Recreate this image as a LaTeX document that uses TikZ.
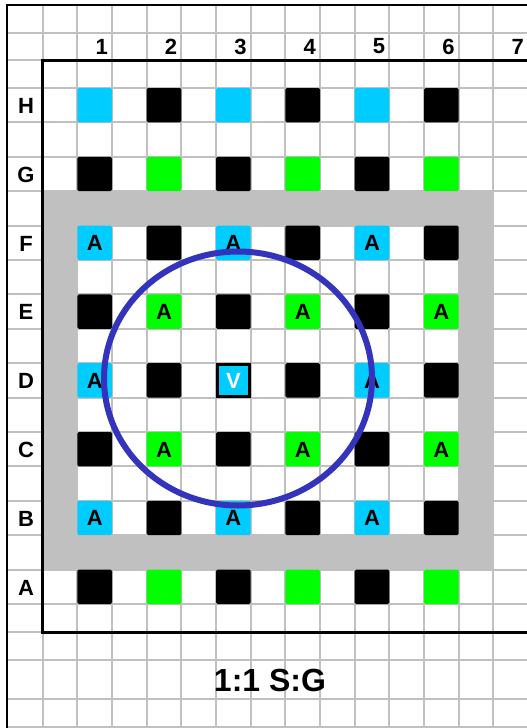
\documentclass[tikz,border=0pt]{standalone}
\usepackage{fontspec}
\setmainfont{Liberation Sans}
\definecolor{cyanbox}{HTML}{00CCFF}
\definecolor{greenbox}{HTML}{00FF00}
\definecolor{gridgray}{HTML}{C0C0C0}
\definecolor{ringblue}{RGB}{51,51,187}
\begin{document}
\begin{tikzpicture}[x=1pt, y=-1pt,
    cell/.style={rounded corners=1.5pt},
    lbl/.style={font=\fontsize{22}{26}\selectfont\bfseries, inner sep=0pt}]
    \useasboundingbox (0,0) rectangle (527,728);
    \fill[white] (0,0) rectangle (527,728);

    \foreach \k in {0,...,14}
        \draw[gridgray, line width=2pt] ({42.7+34.67*\k},5) -- ({42.7+34.67*\k},728);
    \foreach \y in {33,60,632,660,699,727}
        \draw[gridgray, line width=2pt] (7,\y) -- (527,\y);
    \foreach \j in {0,...,15}
        \draw[gridgray, line width=2pt] (7,{88+34.4*\j}) -- (527,{88+34.4*\j});

    \fill[gridgray, even odd rule]
        (42.7,191.2) rectangle (493.4,569.6)
        (77.4,225.6) rectangle (458.7,535.2);

    \foreach \j/\ca/\cb in {
        0/cyanbox/black,2/black/greenbox,4/cyanbox/black,6/black/greenbox,
        8/cyanbox/black,10/black/greenbox,12/cyanbox/black,14/black/greenbox} {
        \foreach \n in {1,3,5}
            \fill[\ca, cell] ({42.7+34.67*(2*\n-1)},{88+34.4*\j}) rectangle ++(34.67,34.4);
        \foreach \n in {2,4,6}
            \fill[\cb, cell] ({42.7+34.67*(2*\n-1)},{88+34.4*\j}) rectangle ++(34.67,34.4);
    }
    \draw[black, fill=cyanbox, line width=3pt]
        ({42.7+34.67*5+1.5},{88+34.4*8+1.5}) rectangle ++(31.67,31.4);

    \draw[black, line width=3pt] (527,60) -- (42.7,60) -- (42.7,632) -- (527,632);
    \draw[black, line width=2.5pt] (7,728) -- (7,5) -- (527,5);

    \foreach \n in {1,...,7}
        \node[lbl, anchor=east] (col\n) at ({42.7+34.67*2*\n-4},46.5) {\n};
    \foreach \r/\j in {H/0,G/2,F/4,E/6,D/8,C/10,B/12,A/14}
        \node[lbl] (row\r) at (26,{88+34.4*\j+18}) {\r};

    \foreach \r/\j/\n in {
        F/4/1,F/4/3,F/4/5,E/6/2,E/6/4,E/6/6,D/8/1,D/8/5,
        C/10/2,C/10/4,C/10/6,B/12/1,B/12/3,B/12/5}
        \node[lbl] (a\r\n) at ({42.7+34.67*(2*\n-0.5)},{88+34.4*\j+17.5}) {A};
    \node[lbl, text=white] (vD3) at ({42.7+34.67*5.5},{88+34.4*8+17.5}) {V};

    \draw[ringblue, line width=6pt] (238,378.5) ellipse [x radius=134, y radius=127];

    \node[lbl, font=\fontsize{32}{36}\selectfont\bfseries] (title) at (270,680.5) {1:1 S:G};
\end{tikzpicture}
\end{document}
